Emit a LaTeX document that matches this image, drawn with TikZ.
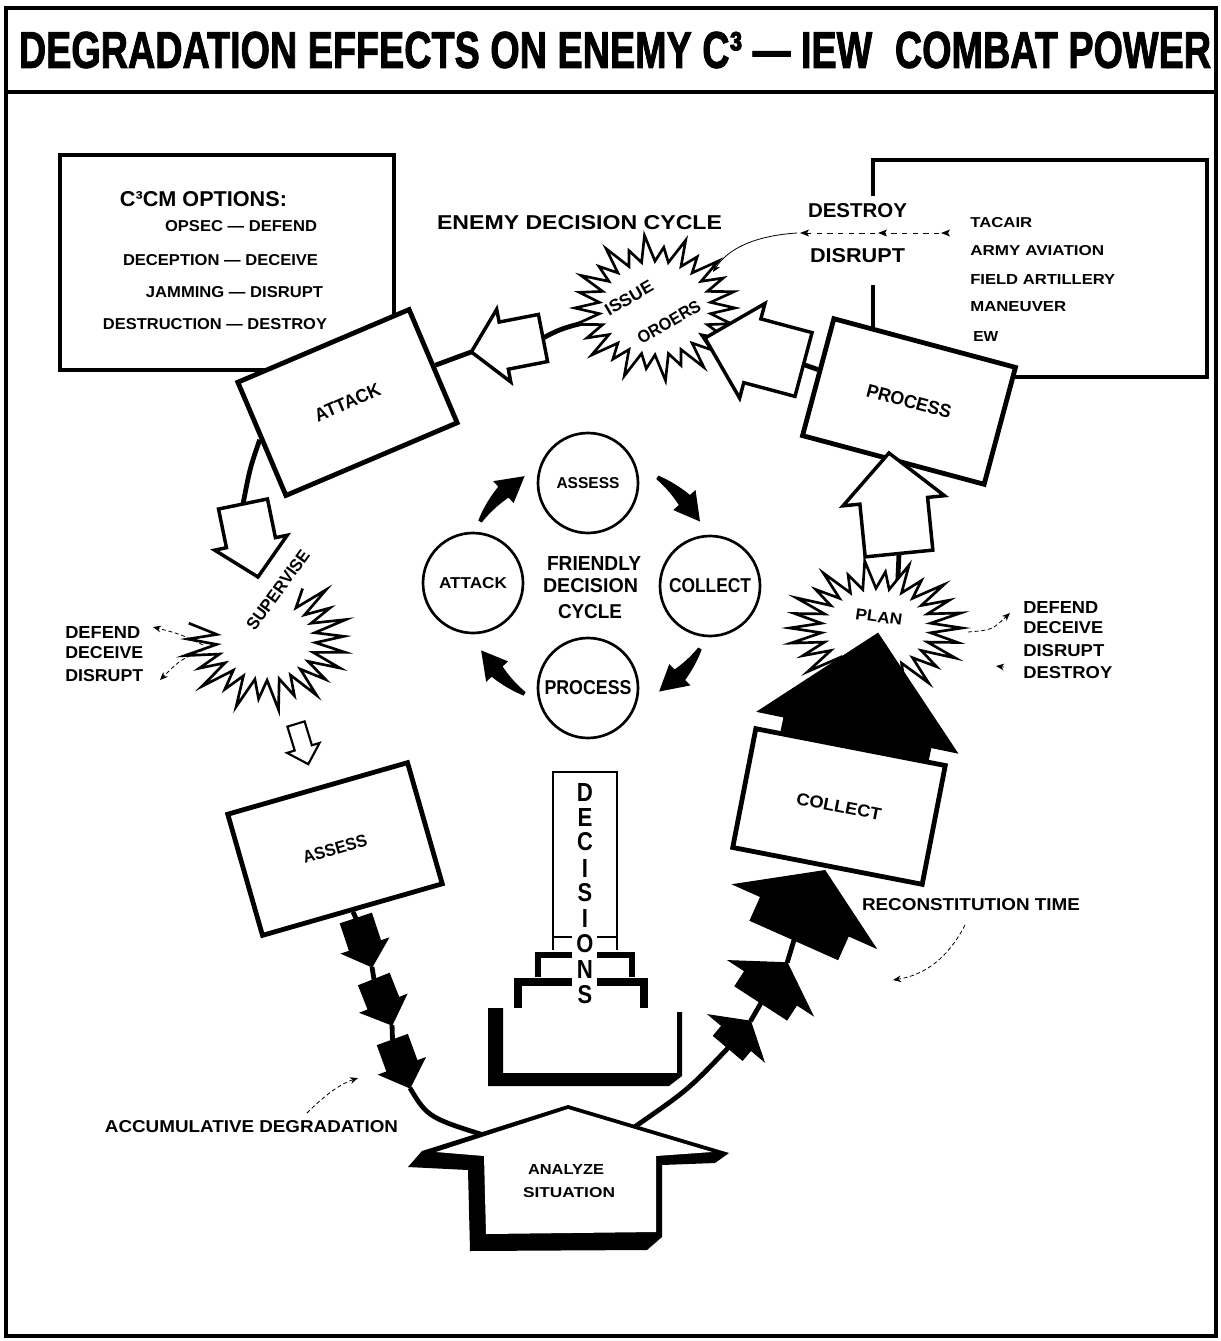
\documentclass[tikz,border=0pt]{standalone}
\usepackage{fontspec}
\usepackage{graphicx}
\setmainfont{Liberation Sans}
\newfontfamily\titlefont[FakeBold=2]{Liberation Sans}
\usetikzlibrary{arrows.meta}
\pgfdeclarelayer{bg}
\pgfsetlayers{bg,main}
\newdimen\pxu \pxu=0.75pt
\newcommand\lbx[3]{\resizebox{#1\pxu}{#2\pxu}{\bfseries #3}}
% block arrow: name, x, y (tail centre), angle, length, half shaft, half head, head length, style
\newcommand\blkar[9]{%
 \begin{scope}[shift={(#2,#3)},rotate=#4]
 \draw[#9] (0,#6) -- ({#5-#8},#6) -- ({#5-#8},#7) -- (#5,0) -- ({#5-#8},-#7) -- ({#5-#8},-#6) -- (0,-#6) -- cycle;
 \coordinate (#1-tail) at (0,0);
 \coordinate (#1-tip) at (#5,0);
 \end{scope}}
% starburst: cx, cy, rx, ry, last index, start angle, step, inner factor, closing
\newcommand\drawburst[9]{\draw[burst] plot[samples at={0,...,#5}] ({#1+#3*(mod(\x,2)*#8+(1-mod(\x,2))*(1+0.09*sin(97*\x)))*cos(#6+\x*(#7))},{#2+#4*(mod(\x,2)*#8+(1-mod(\x,2))*(1+0.09*sin(97*\x)))*sin(#6+\x*(#7))}) #9;}
% tapered curved arrow of the friendly cycle: tail angle, head-start angle, tip angle
\newcommand\cycarr[3]{%
\fill plot[domain=0:1,samples=14] ({590+(129+5.5*\x)*cos((#1)+\x*((#2)-(#1)))},{585+(129+5.5*\x)*sin((#1)+\x*((#2)-(#1)))})
 -- ({590+142*cos(#2)},{585+142*sin(#2)})
 -- ({590+127*cos(#3)},{585+127*sin(#3)})
 -- ({590+112*cos(#2)},{585+112*sin(#2)})
 -- plot[domain=0:1,samples=14] ({590+(119.5+5.5*\x)*cos((#2)+\x*((#1)-(#2)))},{585+(119.5+5.5*\x)*sin((#2)+\x*((#1)-(#2)))})
 -- cycle;}
\newcommand\mylhead[2]{\fill (#1,#2) -- ++(9,-3.5) -- ++(-2,3.5) -- ++(2,3.5) -- cycle;}
\begin{document}
\begin{tikzpicture}[x=0.75pt,y=-0.75pt,
  lbl/.style={inner sep=0pt},
  ebox/.style={draw, fill=white, line width=3.6pt, inner sep=0pt},
  warrow/.style={draw, fill=white, line width=2.6pt, line join=miter},
  warrowsm/.style={draw, fill=white, line width=1.6pt, line join=miter},
  barrow/.style={draw, fill=black, line width=0.8pt, line join=miter},
  conn/.style={line width=3.6pt},
  fcirc/.style={circle, draw, line width=2pt, minimum size=75pt, inner sep=0pt},
  burst/.style={draw, fill=white, line width=2pt, line join=miter, miter limit=25},
  thinarr/.style={line width=0.6pt, dash pattern=on 3pt off 2pt, -{Stealth[length=6pt,width=5pt]}},
  thinsol/.style={line width=0.6pt, -{Stealth[length=6pt,width=5pt]}}]
\useasboundingbox (0,0) rectangle (1220,1341);
\begin{pgfonlayer}{bg}
\fill[white] (0,0) rectangle (1220,1341);
\end{pgfonlayer}

% frame and title
\draw[line width=3.5pt] (6,8) rectangle (1216,1336);
\draw[line width=3pt] (6,92) -- (1216,92);
\node[lbl] (ttl) at (615,50) {\resizebox{1192\pxu}{36\pxu}{\titlefont\bfseries DEGRADATION EFFECTS ON ENEMY C³ — IEW\hspace{0.6em}COMBAT POWER}};

% C3CM options box
\node[draw, fill=white, line width=3pt, minimum width=250.5pt, minimum height=161.25pt, inner sep=0pt] (opts) at (227,262.5) {};
\node[lbl] (o0) at (203.5,199) {\lbx{167}{15}{C³CM OPTIONS:}};
\node[lbl] (o1) at (241,226) {\lbx{152}{11}{OPSEC — DEFEND}};
\node[lbl] (o2) at (220.5,260) {\lbx{195}{11}{DECEPTION — DECEIVE}};
\node[lbl] (o3) at (234.5,292) {\lbx{177}{11}{JAMMING — DISRUPT}};
\node[lbl] (o4) at (215,324) {\lbx{224}{11}{DESTRUCTION — DESTROY}};

% weapons box (open on the left)
\draw[line width=3pt] (873,196) -- (873,160) -- (1207,160) -- (1207,377) -- (1000,377);
\draw[line width=3pt] (873,285) -- (873,340);
\node[lbl, anchor=west] (wt1) at (970,223) {\lbx{62}{10}{TACAIR}};
\node[lbl, anchor=west] (wt2) at (970,251) {\lbx{134}{10}{ARMY AVIATION}};
\node[lbl, anchor=west] (wt3) at (970,280) {\lbx{145}{10}{FIELD ARTILLERY}};
\node[lbl, anchor=west] (wt4) at (970,307) {\lbx{96}{10}{MANEUVER}};
\node[lbl, anchor=west] (wt5) at (973,336) {\lbx{25}{10}{EW}};

\node[lbl] (edc) at (579.5,223) {\lbx{285}{14}{ENEMY DECISION CYCLE}};
\node[lbl] (dst) at (857.5,211) {\lbx{99}{14}{DESTROY}};
\node[lbl] (dsr) at (857.5,256) {\lbx{95}{14}{DISRUPT}};

% enemy boxes (upper)
\node[ebox, rotate=23, minimum width=139.5pt, minimum height=92.25pt] (attack) at (347.5,402.5) {\lbx{70}{13}{ATTACK}};
\node[ebox, rotate=-15, minimum width=141pt, minimum height=90.75pt] (process) at (909,401.5) {\lbx{87}{13}{PROCESS}};

% starbursts
\coordinate (issue) at (655,308);
\coordinate (plan) at (896,622);
\coordinate (supv) at (266,640);
\drawburst{655}{308}{80}{67}{51}{0}{6.923}{0.7}{-- cycle}
\drawburst{266}{640}{80}{65}{36}{195}{-7.083}{0.62}{}
\drawburst{876}{628}{86}{62}{51}{0}{6.923}{0.64}{-- cycle}
\node[lbl, rotate=30] (tiss) at (629,298) {\lbx{53}{12}{ISSUE}};
\node[lbl, rotate=30] (tord) at (669,322) {\lbx{70}{12}{OROERS}};
\node[lbl, rotate=54] (tsup) at (278,590) {\lbx{95}{12}{SUPERVISE}};
\node[lbl, rotate=-8] (tplan) at (879,617) {\lbx{47}{11}{PLAN}};

% hollow arrows
\blkar{w1}{543}{338}{191}{73}{24}{37}{33}{warrow}
\blkar{w2}{803.5}{364.5}{165}{102}{33}{49}{49}{warrow}
\blkar{w3}{899}{553.5}{95.7}{101}{34}{51}{48}{warrow}
\blkar{w4}{243}{504}{-78.4}{74.5}{25}{37}{35}{warrow}
\blkar{w5}{296}{724}{-73}{42}{9}{17}{17}{warrowsm}

% black arrows and lower boxes
\blkar{b1}{845.5}{790}{78.3}{160}{75}{102}{101}{barrow}
\node[ebox, rotate=-11, minimum width=144.75pt, minimum height=90.75pt] (ecollect) at (839,806.5) {\lbx{86}{12}{COLLECT}};
\blkar{b2}{794}{940}{66}{76}{48}{78}{50}{barrow}
\blkar{b3}{761}{1003}{57}{48}{31}{50}{30}{barrow}
\blkar{b4}{728}{1048}{50}{35}{19}{36}{22}{barrow}
\node[ebox, rotate=16, minimum width=140.25pt, minimum height=94.5pt] (eassess) at (335,849) {\lbx{66}{12}{ASSESS}};
\blkar{d1}{356}{918.5}{-71.7}{51}{16.4}{24.4}{22}{barrow}
\blkar{d2}{374}{979.5}{-68.4}{49}{16.5}{24.7}{23}{barrow}
\blkar{d3}{392.5}{1040}{-70}{51}{16}{24.4}{23}{barrow}

% analyze situation arrow
\coordinate (anl) at (500,1140);
\coordinate (anr) at (630,1130);
\fill (422,1151) -- (568,1105) -- (729,1153) -- (715,1163) -- (662,1165) -- (662,1237) -- (647,1250) -- (470,1251) -- (468,1170) -- (408,1167) -- cycle;
\fill[white] (436,1152) -- (568,1109) -- (712,1152) -- (656,1156) -- (656,1232) -- (486,1234) -- (484,1156) -- cycle;
\node[lbl] (an1) at (566,1169) {\lbx{76}{10}{ANALYZE}};
\node[lbl] (an2) at (569,1193) {\lbx{92}{10}{SITUATION}};

% decisions column
\draw[line width=2pt] (553,950) -- (553,772) -- (617,772) -- (617,950);
\draw[line width=2pt] (553,937) -- (572,937) (597,937) -- (617,937);
\draw[line width=4.5pt, line join=miter] (572,955) -- (538,955) -- (538,977) (597,955) -- (632,955) -- (632,977);
\draw[line width=6pt, line join=miter] (572,982) -- (518,982) -- (518,1008) (597,982) -- (644,982) -- (644,1008);
\fill (488,1008) -- (503,1008) -- (503,1073) -- (677,1073) -- (677,1012) -- (682,1012) -- (682,1076) -- (669,1086) -- (488,1086) -- cycle;
\foreach \L/\yy [count=\i] in {D/792,E/817,C/842,I/868,S/893,I/918,O/944,N/969,S/995}
  \node[lbl] (dl\i) at (585,\yy) {\resizebox{!}{18\pxu}{\scalebox{0.85}[1]{\bfseries\L}}};

% friendly decision cycle
\node[fcirc] (fassess) at (588,483) {\lbx{63}{11}{ASSESS}};
\node[fcirc] (fattack) at (473,583) {\lbx{68}{11}{ATTACK}};
\node[fcirc] (fcollect) at (710,586) {\lbx{82}{14}{COLLECT}};
\node[fcirc] (fprocess) at (588,688) {\lbx{87}{14}{PROCESS}};
\node[lbl] (fr1) at (594,563) {\lbx{94}{14}{FRIENDLY}};
\node[lbl] (fr2) at (590.5,586) {\lbx{95}{14}{DECISION}};
\node[lbl] (fr3) at (590,612) {\lbx{64}{14}{CYCLE}};
\cycarr{-150}{-133}{-121}
\cycarr{-58}{-42}{-30}
\cycarr{30}{45}{57}
\cycarr{121}{137}{149}

% side labels
\node[lbl, anchor=west] (ldef) at (65,632) {\lbx{75}{12}{DEFEND}};
\node[lbl, anchor=west] (ldec) at (65,653) {\lbx{78}{12}{DECEIVE}};
\node[lbl, anchor=west] (ldis) at (65,676) {\lbx{78}{12}{DISRUPT}};
\node[lbl, anchor=west] (rdef) at (1023,607) {\lbx{75}{12}{DEFEND}};
\node[lbl, anchor=west] (rdec) at (1023,628) {\lbx{80}{12}{DECEIVE}};
\node[lbl, anchor=west] (rdis) at (1023,651) {\lbx{81}{12}{DISRUPT}};
\node[lbl, anchor=west] (rdes) at (1023,673) {\lbx{89}{12}{DESTROY}};
\node[lbl] (rct) at (971,905) {\lbx{218}{12}{RECONSTITUTION TIME}};
\node[lbl] (acc) at (251.5,1127) {\lbx{293}{12}{ACCUMULATIVE DEGRADATION}};

% thin pointer arrows
\coordinate (sv1) at (203,645); \coordinate (df1) at (153,627);
\coordinate (sv2) at (203,650); \coordinate (df2) at (160,680);
\draw[thinarr] (sv1) .. controls (180,634) .. (df1);
\draw[thinarr] (sv2) .. controls (180,660) .. (df2);
\coordinate (pl1) at (968,632); \coordinate (pl2) at (1010,613);
\draw[thinarr] (pl1) .. controls (992,630) .. (pl2);
\coordinate (pl3) at (1004,667); \coordinate (pl4) at (996,666);
\draw[thinsol] (pl3) -- (pl4);
\coordinate (rc1) at (965,925); \coordinate (rc2) at (893,980);
\draw[thinarr] (rc1) .. controls (948,958) and (925,975) .. (rc2);
\coordinate (ac1) at (307,1113); \coordinate (ac2) at (358,1078);
\draw[thinarr] (ac1) .. controls (325,1095) and (340,1084) .. (ac2);
\coordinate (dd1) at (797,233); \coordinate (dd2) at (713,272);
\draw[thinsol] (dd1) .. controls (752,236) and (727,250) .. (dd2);
\draw[line width=0.6pt, dash pattern=on 4pt off 4pt] (806,233) -- (941,233);
\mylhead{800}{233}
\mylhead{878}{233}
\mylhead{941}{233}

% connectors of the enemy cycle
\begin{pgfonlayer}{bg}
\draw[conn] (attack.east) -- (w1-tip);
\draw[conn] (w1-tail) .. controls (566,326) .. (issue);
\draw[conn] (w2-tail) -- (process);
\draw[conn] (w3-tail) -- (plan);
\draw[conn] (attack.west) .. controls (250,468) .. (w4-tail);
\draw[conn] (eassess.south) -- (d1-tail);
\draw[conn] (d1-tip) -- (d2-tail);
\draw[conn] (d2-tip) -- (d3-tail);
\draw[conn] (d3-tip) .. controls (428,1118) .. (anl);
\draw[conn] (anr) .. controls (688,1090) .. (b4-tail);
\draw[conn] (b4-tip) -- (b3-tail);
\draw[conn] (b3-tip) -- (b2-tail);
\end{pgfonlayer}
\end{tikzpicture}
\end{document}
